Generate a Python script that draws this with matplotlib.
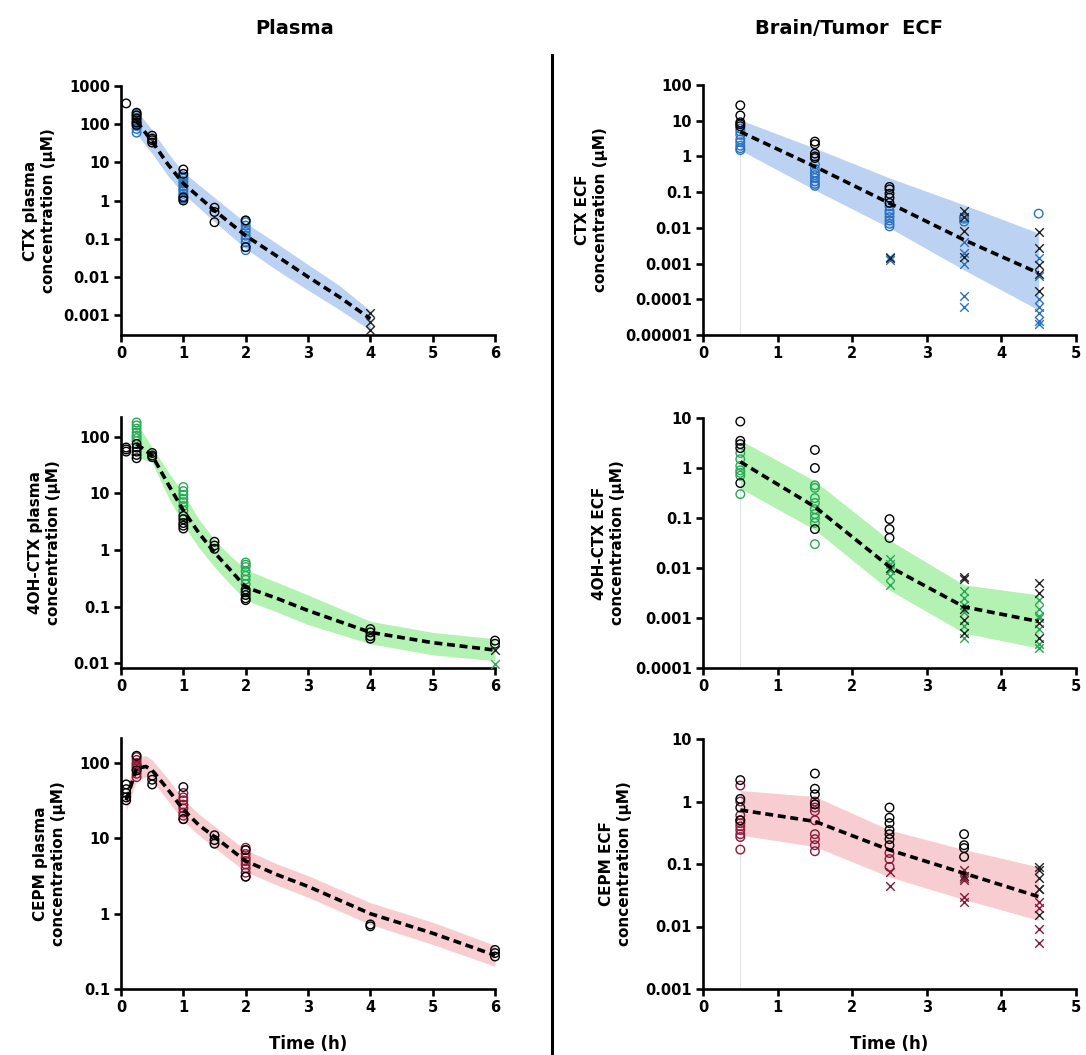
import numpy as np
import matplotlib
matplotlib.use("Agg")
import matplotlib.pyplot as plt
from matplotlib.ticker import FixedLocator, FuncFormatter, NullLocator
from matplotlib.lines import Line2D

plt.rcParams['font.family'] = ['DejaVu Sans']
plt.rcParams['font.weight'] = 'bold'

# ---------------- data ----------------
# CTX plasma
ctx_pl_t = [0.25, 0.5, 0.75, 1, 1.5, 2, 2.5, 3, 3.5, 4]
ctx_pl_med = [120, 35, 9, 2.8, 0.55, 0.12, 0.035, 0.01, 0.003, 0.0008]
ctx_pl_up = [230, 70, 18, 5.5, 1.2, 0.26, 0.075, 0.021, 0.006, 0.0013]
ctx_pl_lo = [55, 17, 4.5, 1.5, 0.28, 0.055, 0.015, 0.0045, 0.0014, 0.0004]
ctx_pl_col = {0.25: [60, 75, 90, 100, 110, 120, 130, 150, 170, 190],
              1: [1.1, 1.3, 1.5, 1.8, 2.0, 2.4, 2.8, 3.2, 3.8, 4.3],
              2: [0.05, 0.06, 0.08, 0.1, 0.12, 0.15, 0.18, 0.22, 0.27, 0.3]}
ctx_pl_blk = {0.083: [350], 0.25: [200, 170, 140, 110, 95], 0.5: [50, 42, 38, 33],
              1: [6.5, 5.0, 1.2, 1.0], 1.5: [0.65, 0.5, 0.27], 2: [0.3, 0.06]}
ctx_pl_blk_x = {4: [0.0011, 0.00065, 0.0004]}
ctx_pl_col_x = {}

# 4OH-CTX plasma
oh_pl_t = [0.25, 0.5, 0.75, 1, 1.25, 1.5, 1.75, 2, 2.5, 3, 4, 5, 6]
oh_pl_med = [75, 47, 15, 5, 2, 0.9, 0.45, 0.22, 0.14, 0.085, 0.035, 0.023, 0.017]
oh_pl_up = [180, 65, 25, 10, 3.5, 1.5, 0.8, 0.45, 0.27, 0.16, 0.055, 0.035, 0.027]
oh_pl_lo = [45, 35, 9, 2.8, 1.1, 0.5, 0.25, 0.13, 0.08, 0.048, 0.022, 0.014, 0.011]
oh_pl_col = {0.25: [180, 160, 140, 120, 105, 95, 85],
             1: [13, 11, 9.5, 8, 7, 6, 5],
             2: [0.6, 0.55, 0.5, 0.42, 0.35, 0.3, 0.25]}
oh_pl_blk = {0.083: [65, 60, 55], 0.25: [75, 65, 55, 48, 42], 0.5: [52, 47, 44],
             1: [4, 3.5, 3, 2.7, 2.4], 1.5: [1.4, 1.2, 1.05],
             2: [0.2, 0.18, 0.16, 0.14, 0.13], 4: [0.04, 0.035, 0.03, 0.027],
             6: [0.025, 0.022]}
oh_pl_blk_x = {6: [0.017]}
oh_pl_col_x = {6: [0.0095]}

# CEPM plasma
cepm_pl_t = [0.083, 0.25, 0.4, 0.5, 0.75, 1, 1.25, 1.5, 2, 2.5, 3, 4, 5, 6]
cepm_pl_med = [32, 85, 90, 80, 45, 24, 15, 10.5, 5, 3.3, 2.3, 1.0, 0.55, 0.28]
cepm_pl_up = [45, 120, 125, 110, 62, 33, 21, 14.5, 7, 4.6, 3.2, 1.4, 0.77, 0.38]
cepm_pl_lo = [23, 60, 65, 58, 32, 17, 11, 7.5, 3.6, 2.4, 1.65, 0.72, 0.39, 0.2]
cepm_pl_col = {0.25: [120, 110, 100, 95, 90, 85, 80, 72, 65],
               1: [40, 35, 32, 28, 25, 22, 20, 18],
               2: [7.5, 7, 6.2, 5.5, 5, 4.5, 4, 3.5, 3.1]}
cepm_pl_blk = {0.083: [52, 45, 40, 35, 32], 0.25: [125, 80], 0.5: [68, 60, 52],
               1: [48, 18], 1.5: [11, 9.5, 8.5], 2: [7, 3.1], 4: [0.72, 0.68],
               6: [0.33, 0.3, 0.27]}
cepm_pl_blk_x = {}
cepm_pl_col_x = {}

# ECF time points
ecf_t = [0.5, 1.5, 2.5, 3.5, 4.5]

# CTX ECF
ctx_ecf_med = [4.9, 0.52, 0.049, 0.0046, 0.00054]
ctx_ecf_up = [10.5, 1.7, 0.25, 0.044, 0.0071]
ctx_ecf_lo = [1.5, 0.115, 0.01, 0.00066, 0.00005]
ctx_ecf_col = {0.5: [6, 5, 4, 3, 2.5, 2, 1.7, 1.5],
               1.5: [0.6, 0.45, 0.35, 0.3, 0.25, 0.2, 0.17, 0.15],
               2.5: [0.04, 0.03, 0.025, 0.02, 0.016, 0.013, 0.011],
               3.5: [0.02, 0.018, 0.015], 4.5: [0.025]}
ctx_ecf_blk = {0.5: [27, 14, 9, 8, 7], 1.5: [2.6, 2.2, 1.2, 1.0, 0.9],
               2.5: [0.14, 0.12, 0.09, 0.07, 0.05]}
ctx_ecf_blk_x = {2.5: [0.0014], 3.5: [0.03, 0.02, 0.008, 0.0015],
                 4.5: [0.0075, 0.0028, 0.0009, 0.0005, 0.00017]}
ctx_ecf_col_x = {2.5: [0.0015, 0.0013], 3.5: [0.004, 0.002, 0.001, 0.00012, 0.00006],
                 4.5: [0.0014, 0.00045, 0.0001, 0.00006, 0.00004, 0.000025, 0.00002]}

# 4OH-CTX ECF
oh_ecf_med = [1.33, 0.167, 0.0106, 0.00167, 0.00085]
oh_ecf_up = [3.6, 0.55, 0.036, 0.0046, 0.0029]
oh_ecf_lo = [0.39, 0.058, 0.0036, 0.0005, 0.00025]
oh_ecf_col = {0.5: [2, 1.5, 1.1, 0.9, 0.8, 0.7, 0.3],
              1.5: [0.45, 0.4, 0.25, 0.2, 0.15, 0.12, 0.1, 0.08, 0.03]}
oh_ecf_blk = {0.5: [8.5, 3.5, 3, 2.5, 0.5], 1.5: [2.3, 1.0, 0.06],
              2.5: [0.095, 0.06, 0.04]}
oh_ecf_blk_x = {2.5: [0.01], 3.5: [0.0065, 0.006, 0.0015, 0.0009, 0.0005],
                4.5: [0.005, 0.0032, 0.0008, 0.0004]}
oh_ecf_col_x = {2.5: [0.015, 0.012, 0.009, 0.007, 0.0045],
                3.5: [0.0035, 0.0025, 0.0018, 0.0013, 0.0007, 0.0004],
                4.5: [0.0023, 0.0015, 0.0011, 0.001, 0.0006, 0.0003, 0.00025]}

# CEPM ECF
cepm_ecf_med = [0.73, 0.48, 0.168, 0.071, 0.03]
cepm_ecf_up = [1.5, 1.2, 0.35, 0.17, 0.09]
cepm_ecf_lo = [0.29, 0.19, 0.062, 0.027, 0.0126]
cepm_ecf_col = {0.5: [1.8, 1.0, 0.6, 0.5, 0.45, 0.4, 0.35, 0.3, 0.27, 0.17],
                1.5: [1.0, 0.9, 0.8, 0.7, 0.5, 0.3, 0.25, 0.2, 0.16],
                2.5: [0.15, 0.12, 0.09]}
cepm_ecf_blk = {0.5: [2.2, 1.1, 0.8, 0.5], 1.5: [2.8, 1.6, 1.3, 0.9],
                2.5: [0.8, 0.55, 0.45, 0.35, 0.3, 0.25, 0.2],
                3.5: [0.3, 0.2, 0.18, 0.13]}
cepm_ecf_blk_x = {3.5: [0.065], 4.5: [0.09, 0.08, 0.06, 0.04, 0.015]}
cepm_ecf_col_x = {2.5: [0.075, 0.045], 3.5: [0.08, 0.06, 0.055, 0.03, 0.025],
                  4.5: [0.04, 0.025, 0.02, 0.009, 0.0055]}

# ---------------- styling ----------------
BLUE, BLUE_BAND = '#2a72c0', '#bcd2f3'
GREEN, GREEN_BAND = '#2aa858', '#b4f2b4'
RED, RED_BAND = '#8c1838', '#f8cdd1'

W, H = 1086, 1055
fig = plt.figure(figsize=(W / 100, H / 100), dpi=100)


def axes_px(x0, x1, ytop, ybot):
    return fig.add_axes([x0 / W, 1 - ybot / H, (x1 - x0) / W, (ybot - ytop) / H])


def fmt(v, _):
    return np.format_float_positional(v, trim='-')


def panel(ax, t, med, up, lo, col, blk, blk_x, col_x, mcol, bcol,
          ylim, yticks, xlim, xticks, ylabel, labx, ecf=False):
    ax.set_yscale('log')
    ax.fill_between(t, lo, up, color=bcol, lw=0, zorder=1)
    if ecf:
        ax.plot([t[0], t[0]], [ylim[0], lo[0]], color='#e4e4e4', lw=0.8, zorder=0.5)
    for d, c in ((col, mcol), (blk, 'black')):
        for tt, vals in d.items():
            ax.scatter([tt] * len(vals), vals, s=38, facecolors='none',
                       edgecolors=c, linewidths=1.0, zorder=3, clip_on=False)
    for d, c in ((col_x, mcol), (blk_x, '#222222')):
        for tt, vals in d.items():
            ax.scatter([tt] * len(vals), vals, s=38, marker='x', c=c,
                       linewidths=1.0, zorder=3, clip_on=False)
    ax.plot(t, med, color='black', ls=(0, (2.2, 1.3)), lw=2.6, zorder=4)
    ax.set_ylim(*ylim)
    ax.set_xlim(*xlim)
    ax.yaxis.set_major_locator(FixedLocator(yticks))
    ax.yaxis.set_major_formatter(FuncFormatter(fmt))
    ax.yaxis.set_minor_locator(NullLocator())
    ax.xaxis.set_major_locator(FixedLocator(xticks))
    ax.xaxis.set_major_formatter(FuncFormatter(lambda v, _: '%d' % v))
    for s in ('top', 'right'):
        ax.spines[s].set_visible(False)
    for s in ('left', 'bottom'):
        ax.spines[s].set_linewidth(1.9)
    ax.tick_params(axis='both', which='major', direction='out', length=5,
                   width=1.9, labelsize=10.5, pad=3)
    for lab in ax.get_xticklabels() + ax.get_yticklabels():
        lab.set_fontweight('bold')
    ax.set_ylabel(ylabel, fontsize=11, fontweight='bold', linespacing=1.25)
    ax.yaxis.set_label_coords(labx, 0.5)
    ax.patch.set_alpha(0)


LX0, LX1 = 121, 495
RX0, RX1 = 703, 1076

ax1 = axes_px(LX0, LX1, 86, 335)
panel(ax1, ctx_pl_t, ctx_pl_med, ctx_pl_up, ctx_pl_lo, ctx_pl_col, ctx_pl_blk,
      ctx_pl_blk_x, ctx_pl_col_x, BLUE, BLUE_BAND, (0.0003, 1000),
      [0.001, 0.01, 0.1, 1, 10, 100, 1000], (0, 6), range(7),
      'CTX plasma\nconcentration (µM)', -0.175)

ax3 = axes_px(LX0, LX1, 417, 668)
panel(ax3, oh_pl_t, oh_pl_med, oh_pl_up, oh_pl_lo, oh_pl_col, oh_pl_blk,
      oh_pl_blk_x, oh_pl_col_x, GREEN, GREEN_BAND, (0.0082, 225),
      [0.01, 0.1, 1, 10, 100], (0, 6), range(7),
      '4OH-CTX plasma\nconcentration (µM)', -0.16)

ax5 = axes_px(LX0, LX1, 738, 989)
panel(ax5, cepm_pl_t, cepm_pl_med, cepm_pl_up, cepm_pl_lo, cepm_pl_col, cepm_pl_blk,
      cepm_pl_blk_x, cepm_pl_col_x, RED, RED_BAND, (0.1, 215),
      [0.1, 1, 10, 100], (0, 6), range(7),
      'CEPM plasma\nconcentration (µM)', -0.148)
ax5.set_xlabel('Time (h)', fontsize=12, fontweight='bold', labelpad=14)

ax2 = axes_px(RX0, RX1, 85, 335)
panel(ax2, ecf_t, ctx_ecf_med, ctx_ecf_up, ctx_ecf_lo, ctx_ecf_col, ctx_ecf_blk,
      ctx_ecf_blk_x, ctx_ecf_col_x, BLUE, BLUE_BAND, (0.00001, 100),
      [0.00001, 0.0001, 0.001, 0.01, 0.1, 1, 10, 100], (0, 5), range(6),
      'CTX ECF\nconcentration (µM)', -0.255, ecf=True)

ax4 = axes_px(RX0, RX1, 418, 668)
panel(ax4, ecf_t, oh_ecf_med, oh_ecf_up, oh_ecf_lo, oh_ecf_col, oh_ecf_blk,
      oh_ecf_blk_x, oh_ecf_col_x, GREEN, GREEN_BAND, (0.0001, 10),
      [0.0001, 0.001, 0.01, 0.1, 1, 10], (0, 5), range(6),
      '4OH-CTX ECF\nconcentration (µM)', -0.21, ecf=True)

ax6 = axes_px(RX0, RX1, 739, 989)
panel(ax6, ecf_t, cepm_ecf_med, cepm_ecf_up, cepm_ecf_lo, cepm_ecf_col, cepm_ecf_blk,
      cepm_ecf_blk_x, cepm_ecf_col_x, RED, RED_BAND, (0.001, 10),
      [0.001, 0.01, 0.1, 1, 10], (0, 5), range(6),
      'CEPM ECF\nconcentration (µM)', -0.19, ecf=True)
ax6.set_xlabel('Time (h)', fontsize=12, fontweight='bold', labelpad=14)

fig.text(295 / W, 1 - 28 / H, 'Plasma', ha='center', va='center',
         fontsize=14, fontweight='bold')
fig.text(849 / W, 1 - 28 / H, 'Brain/Tumor  ECF', ha='center', va='center',
         fontsize=14, fontweight='bold')
fig.add_artist(Line2D([552 / W, 552 / W], [0, 1 - 55 / H], color='black',
                      lw=2.2, transform=fig.transFigure))

fig.savefig('out.png', dpi=100, facecolor='white')
